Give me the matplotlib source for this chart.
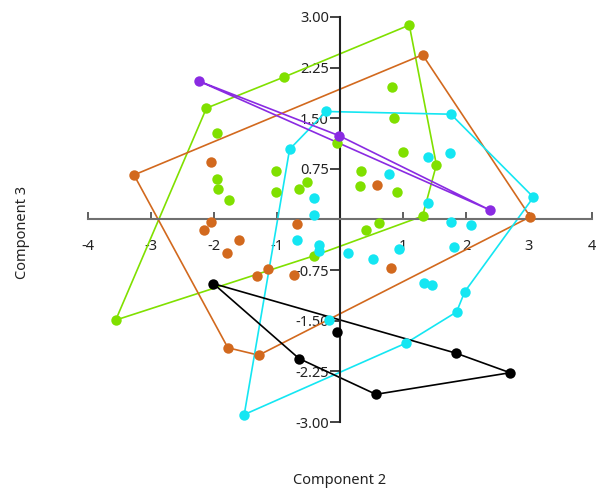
import matplotlib.pyplot as plt
import numpy as np

plt.rcParams['font.family'] = ['Noto Sans', 'DejaVu Sans']
plt.rcParams['axes.unicode_minus'] = False

# scores per group (Component 2, Component 3) and the hull order of each group
green_x = [-2.12, -0.89, 1.10, 0.82, 0.86, -0.05, 1.00, 1.53, 0.33, 0.32, 0.90, 1.31,
           -1.95, -1.95, -1.93, -1.76, -1.02, -1.02, -0.65, -0.53, 0.41, 0.62, -0.42, -3.56]
green_y = [1.65, 2.11, 2.88, 1.97, 1.50, 1.14, 1.00, 0.81, 0.72, 0.49, 0.41, 0.05,
           1.28, 0.60, 0.45, 0.29, 0.72, 0.40, 0.45, 0.55, -0.16, -0.05, -0.54, -1.49]
green_hull = [23, 0, 1, 2, 7, 11, 22]

orange_x = [-3.27, -2.05, 1.31, 3.02, 0.59, -2.05, -2.16, -1.61, -1.80, -1.31, -1.14,
            -0.73, -0.69, -1.78, -1.29, 0.81]
orange_y = [0.66, 0.85, 2.44, 0.04, 0.51, -0.03, -0.16, -0.30, -0.49, -0.83, -0.73,
            -0.82, -0.06, -1.90, -2.01, -0.72]
orange_hull = [0, 2, 3, 14, 13]

cyan_x = [-0.22, 1.76, 3.07, -0.80, 1.40, 1.75, 0.77, 1.39, -0.42, -0.42, -0.68, -0.33,
          -0.33, 1.76, 2.08, 0.13, 0.53, 0.93, 1.81, 1.34, 1.46, 1.98, 1.85, 1.05, -1.52, -0.17]
cyan_y = [1.60, 1.56, 0.33, 1.04, 0.92, 0.99, 0.68, 0.25, 0.32, 0.07, -0.30, -0.38,
          -0.46, -0.03, -0.08, -0.49, -0.59, -0.43, -0.41, -0.94, -0.97, -1.07, -1.37, -1.83, -2.89, -1.49]
cyan_hull = [24, 3, 0, 1, 2, 21, 22, 23]

purple_x = [-2.24, -0.01, 2.38]
purple_y = [2.05, 1.24, 0.14]
purple_hull = [0, 1, 2]

black_x = [-2.01, -0.65, -0.05, 1.84, 2.70, 0.57]
black_y = [-0.95, -2.06, -1.67, -1.98, -2.27, -2.59]
black_hull = [0, 3, 4, 5, 1]

groups = [
    (green_x, green_y, green_hull, '#80e000'),
    (orange_x, orange_y, orange_hull, '#d2691e'),
    (cyan_x, cyan_y, cyan_hull, '#14e6f2'),
    (purple_x, purple_y, purple_hull, '#8a2be2'),
    (black_x, black_y, black_hull, '#000000'),
]

x_ticks = [-4, -3, -2, -1, 1, 2, 3, 4]
y_ticks = [-3.0, -2.25, -1.5, -0.75, 0.75, 1.5, 2.25, 3.0]

fig = plt.figure(figsize=(5.98, 4.94), dpi=100)
ax = fig.add_axes([88/598, 72/494, 504/598, 405/494])

for gx, gy, hull, col in groups:
    gx = np.array(gx)
    gy = np.array(gy)
    idx = hull + [hull[0]]
    ax.plot(gx[idx], gy[idx], '-', color=col, lw=1.2, zorder=2)
    ax.plot(gx, gy, 'o', color=col, ms=7.5, mec='none', zorder=3)

ax.set_xlim(-4, 4)
ax.set_ylim(-3, 3)

for s in ['top', 'right']:
    ax.spines[s].set_visible(False)
ax.spines['left'].set_position(('data', 0))
ax.spines['bottom'].set_position(('data', 0))
ax.spines['left'].set_linewidth(1.5)
ax.spines['left'].set_color('#222222')
ax.spines['bottom'].set_linewidth(1.5)
ax.spines['bottom'].set_color('#707070')

ax.set_xticks(x_ticks)
ax.set_xticklabels([str(t) for t in x_ticks])
ax.set_yticks(y_ticks)
ax.set_yticklabels(['%.2f' % t for t in y_ticks])
ax.tick_params(axis='x', direction='in', length=5, width=1.2, color='#444444',
               pad=14, labelsize=10.5, labelcolor='#222222')
ax.tick_params(axis='y', direction='out', length=7, width=1.2, color='#222222',
               pad=1, labelsize=10.5, labelcolor='#222222')

fig.text(340/598, 1 - 480/494, 'Component 2', ha='center', va='center', fontsize=10.5, color='#222222')
fig.text(22/598, 1 - 232/494, 'Component 3', ha='center', va='center', rotation=90,
         fontsize=10.5, color='#222222')

plt.savefig('out.png', dpi=100)
